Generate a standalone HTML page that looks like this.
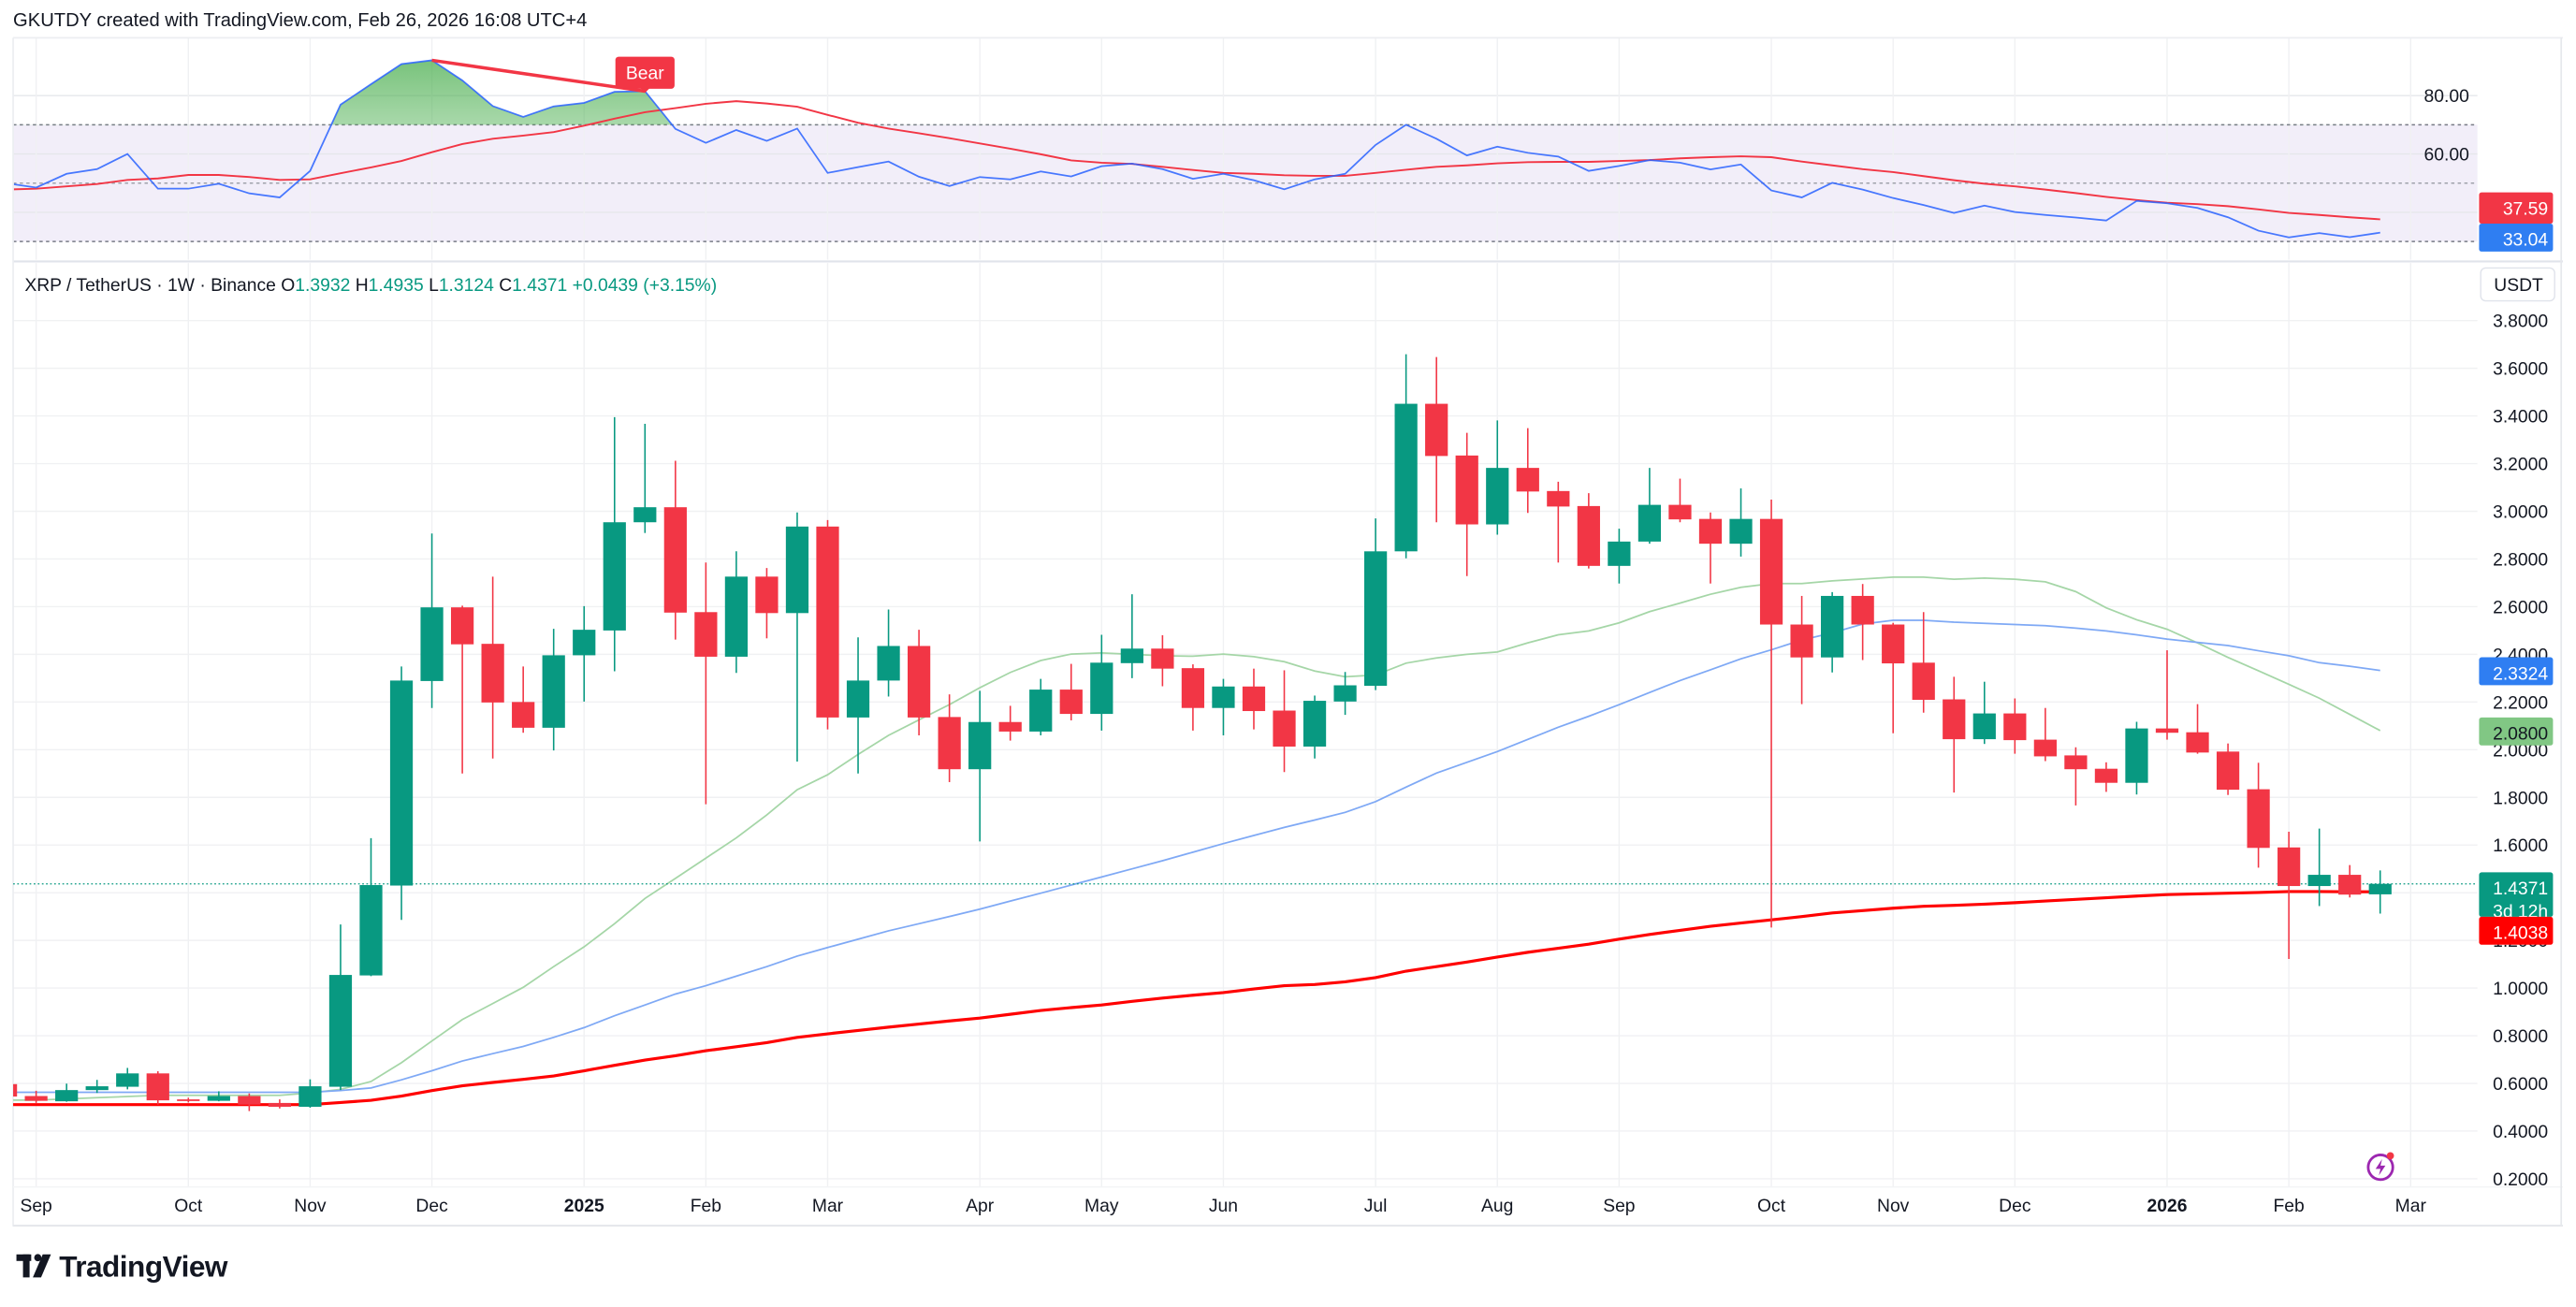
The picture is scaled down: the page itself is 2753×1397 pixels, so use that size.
<!DOCTYPE html>
<html><head><meta charset="utf-8">
<style>
html,body{margin:0;padding:0;background:#fff;overflow:hidden}
svg{display:block;font-family:"Liberation Sans",sans-serif}
</style></head>
<body>
<svg id="chart" width="2753" height="1397" viewBox="0 0 1568 795" preserveAspectRatio="none" xmlns="http://www.w3.org/2000/svg">
<defs>
<clipPath id="plotClip"><rect x="8" y="160" width="1500" height="585"/></clipPath>
<clipPath id="rsiClip"><rect x="8" y="23" width="1500" height="136"/></clipPath>
<clipPath id="obClip"><rect x="8" y="0" width="1500" height="76"/></clipPath>
<linearGradient id="gFill" x1="0" y1="0" x2="0" y2="1">
<stop offset="0" stop-color="#4caf50" stop-opacity="0.75"/>
<stop offset="1" stop-color="#4caf50" stop-opacity="0.02"/>
</linearGradient>
</defs>
<text x="8" y="16" font-size="11.5" fill="#131722">GKUTDY created with TradingView.com, Feb 26, 2026 16:08 UTC+4</text>
<g id="rsiPane"></g>
<g id="mainPane"></g>
<g>
<rect x="10" y="763" width="9" height="4" fill="#131722"/>
<rect x="14" y="763" width="4" height="14" fill="#131722"/>
<circle cx="23" cy="765" r="2.2" fill="#131722"/>
<polygon points="26,763 31,763 25,777 20,777" fill="#131722"/>
<text x="36" y="776.5" font-size="18" font-weight="bold" fill="#131722" letter-spacing="-0.3">TradingView</text>
</g>
</svg>
<script>
// ---------- DATA ----------
const candleOpen = [0.597,0.547,0.525,0.572,0.586,0.642,0.533,0.527,0.547,0.518,0.502,0.586,1.053,1.43,2.288,2.597,2.444,2.2,2.092,2.396,2.5,2.954,3.017,2.577,2.39,2.726,2.573,2.936,2.135,2.29,2.435,2.137,1.918,2.116,2.076,2.252,2.15,2.363,2.424,2.342,2.175,2.265,2.164,2.013,2.202,2.268,2.832,3.451,3.234,2.945,3.182,3.085,3.022,2.771,2.873,3.027,2.968,2.864,2.968,2.525,2.387,2.645,2.525,2.365,2.211,2.044,2.152,2.042,1.976,1.92,1.861,2.089,2.073,1.992,1.834,1.59,1.428,1.475,1.3932];
const candleHigh = [0.60,0.569,0.599,0.615,0.665,0.651,0.54,0.567,0.558,0.533,0.617,1.267,1.629,2.349,2.907,2.604,2.726,2.349,2.507,2.602,3.395,3.367,3.212,2.785,2.832,2.762,2.995,2.963,2.471,2.588,2.503,2.232,2.247,2.184,2.297,2.36,2.482,2.652,2.48,2.358,2.297,2.34,2.333,2.227,2.326,2.97,3.659,3.647,3.329,3.381,3.349,3.124,3.076,2.927,3.182,3.137,2.995,3.096,3.049,2.645,2.661,2.695,2.532,2.577,2.306,2.285,2.215,2.175,2.01,1.947,2.117,2.417,2.191,2.026,1.945,1.656,1.669,1.516,1.4935];
const candleLow = [0.54,0.518,0.523,0.56,0.575,0.511,0.52,0.525,0.484,0.495,0.498,0.572,1.05,1.286,2.175,1.9,1.963,2.071,1.997,2.202,2.329,2.909,2.462,1.771,2.322,2.467,1.95,2.085,1.9,2.223,2.06,1.864,1.615,2.038,2.06,2.123,2.08,2.3,2.266,2.08,2.06,2.085,1.906,1.963,2.146,2.25,2.803,2.954,2.728,2.902,2.993,2.785,2.76,2.697,2.864,2.954,2.697,2.81,1.254,2.191,2.324,2.376,2.069,2.155,1.82,2.024,1.983,1.952,1.766,1.823,1.812,2.042,1.983,1.81,1.505,1.122,1.344,1.38,1.3124];
const candleClose = [0.545,0.527,0.572,0.588,0.642,0.529,0.527,0.547,0.511,0.502,0.588,1.055,1.432,2.29,2.597,2.442,2.198,2.092,2.396,2.503,2.954,3.017,2.575,2.39,2.726,2.573,2.936,2.135,2.29,2.435,2.135,1.918,2.116,2.076,2.252,2.15,2.365,2.424,2.34,2.175,2.265,2.162,2.013,2.205,2.27,2.832,3.451,3.232,2.945,3.182,3.083,3.02,2.771,2.873,3.027,2.966,2.864,2.968,2.525,2.387,2.645,2.525,2.362,2.209,2.044,2.152,2.04,1.972,1.918,1.861,2.089,2.071,1.988,1.832,1.588,1.428,1.475,1.392,1.4371];
const ma200 = [0.511,0.511,0.511,0.511,0.511,0.511,0.511,0.511,0.511,0.511,0.511,0.52,0.529,0.547,0.57,0.59,0.604,0.617,0.631,0.653,0.676,0.698,0.716,0.737,0.754,0.771,0.793,0.808,0.822,0.836,0.849,0.862,0.874,0.89,0.906,0.918,0.929,0.944,0.958,0.97,0.981,0.996,1.01,1.015,1.026,1.044,1.071,1.09,1.109,1.13,1.15,1.167,1.184,1.205,1.225,1.242,1.259,1.273,1.286,1.3,1.315,1.325,1.335,1.343,1.347,1.352,1.358,1.365,1.372,1.379,1.386,1.392,1.395,1.398,1.401,1.405,1.405,1.404,1.4038];
const ma50 = [0.563,0.563,0.563,0.563,0.563,0.563,0.563,0.563,0.563,0.563,0.563,0.57,0.581,0.615,0.653,0.694,0.725,0.755,0.793,0.834,0.884,0.929,0.975,1.01,1.05,1.09,1.134,1.17,1.205,1.24,1.27,1.30,1.331,1.365,1.398,1.432,1.466,1.5,1.534,1.57,1.606,1.64,1.674,1.705,1.737,1.782,1.843,1.902,1.947,1.992,2.043,2.094,2.14,2.189,2.24,2.29,2.335,2.381,2.419,2.46,2.49,2.527,2.543,2.543,2.535,2.53,2.525,2.52,2.51,2.498,2.482,2.464,2.45,2.437,2.415,2.394,2.365,2.35,2.3324];
const ma20 = [0.53,0.53,0.535,0.54,0.545,0.55,0.55,0.55,0.55,0.55,0.56,0.575,0.608,0.687,0.778,0.868,0.935,1.003,1.09,1.173,1.27,1.376,1.46,1.545,1.63,1.726,1.832,1.895,1.98,2.06,2.125,2.189,2.26,2.324,2.374,2.401,2.406,2.4,2.394,2.392,2.401,2.39,2.369,2.33,2.306,2.313,2.363,2.385,2.4,2.41,2.448,2.482,2.498,2.532,2.579,2.615,2.652,2.681,2.697,2.697,2.708,2.716,2.724,2.724,2.715,2.72,2.715,2.704,2.663,2.595,2.545,2.505,2.448,2.387,2.331,2.274,2.216,2.148,2.08];
const rsiValues = [50.0,48.5,53.2,54.8,60.0,48.1,48.1,49.8,46.5,45.1,54.2,76.9,83.9,90.8,92.1,85.2,76.4,72.7,76.3,77.5,81.3,81.5,68.6,63.8,68.2,64.5,68.7,53.5,55.5,57.4,52.2,49.0,52.1,51.3,54.0,52.3,55.8,56.7,54.8,51.5,53.2,51.0,47.9,51.3,53.2,63.1,70.0,65.2,59.5,62.5,60.4,59.1,54.2,55.9,57.9,57.0,54.7,56.4,47.5,45.1,50.1,47.8,44.9,42.5,39.8,42.3,40.1,39.1,38.2,37.2,43.9,43.1,41.5,38.3,33.7,31.4,32.9,31.5,33.04];
const rsiMA = [47.8,48.1,48.9,49.7,51.1,51.6,52.8,52.8,52.1,51.1,51.3,53.4,55.4,57.6,60.6,63.4,65.2,66.3,67.5,69.7,72.1,74.3,75.7,77.2,78.1,77.3,76.2,73.4,70.7,68.7,67.1,65.4,63.6,61.8,59.9,57.8,57.0,56.6,55.6,54.5,53.5,53.2,52.7,52.5,52.5,53.5,54.6,55.6,56.1,56.8,57.2,57.3,57.3,57.6,57.9,58.5,58.9,59.2,58.9,57.4,56.1,54.8,53.8,52.4,51.0,49.8,48.9,47.8,46.6,45.3,44.2,43.3,42.8,42.1,41.0,39.8,39.1,38.3,37.59];
const priceTicks = [0.2,0.4,0.6,0.8,1.0,1.2,1.4,1.6,1.8,2.0,2.2,2.4,2.6,2.8,3.0,3.2,3.4,3.6,3.8];
const rsiTicks = [80,60];
const monthLabels = ["Sep","Oct","Nov","Dec","2025","Feb","Mar","Apr","May","Jun","Jul","Aug","Sep","Oct","Nov","Dec","2026","Feb","Mar"];
const monthIndex = [0,5,9,13,18,22,26,31,35,39,44,48,52,57,61,65,70,74,78];
const divergenceFrom = 13, divergenceTo = 20;

// ---------- SCALES ----------
const FIRST = -1;
const xOf = i => 22 + 18.53 * i;
const yOf = p => 717 - (p - 0.2) * 145;
const rY = v => 75.9 + (70 - v) * 1.775;
const NS = "http://www.w3.org/2000/svg";
function mk(tag, attrs, parent){const e=document.createElementNS(NS,tag);for(const k in attrs)e.setAttribute(k,attrs[k]);parent.appendChild(e);return e;}
const GREEN="#089981", RED="#F23645";
const main=document.getElementById('mainPane');
const rsiG=document.getElementById('rsiPane');

// ---------- RSI PANE ----------
let e;
e=mk('rect',{x:8,y:rY(70),width:1500,height:rY(30)-rY(70),fill:'#7e57c2','fill-opacity':0.1},rsiG);


rsiTicks.concat([40]).forEach(v=>{
  e=mk('line',{x1:8,x2:1508,y1:rY(v),y2:rY(v),stroke:'#e6e7eb','stroke-width':0.8},rsiG);
  
  
});
monthIndex.forEach(i=>{
  e=mk('line',{x1:xOf(i),x2:xOf(i),y1:23,y2:158,stroke:'#f0f1f3','stroke-width':0.8},rsiG);
  
  
});
[70,50,30].forEach(v=>{
  e=mk('line',{x1:8,x2:1508,y1:rY(v),y2:rY(v),stroke:v===50?'#a0a3ab':'#787b86','stroke-width':0.8,'stroke-dasharray':'2,2'},rsiG);
  
  
});
mk('line',{x1:8,x2:1560,y1:23,y2:23,stroke:'#eceef1','stroke-width':1},rsiG);
mk('line',{x1:8,x2:1560,y1:159,y2:159,stroke:'#e0e3eb','stroke-width':1.2},rsiG);
// overbought fill
const clipG=mk('g',{'clip-path':'url(#obClip)'},rsiG);
let fd='M'+xOf(FIRST)+','+rY(70);
rsiValues.forEach((v,k)=>{fd+=' L'+xOf(k+FIRST)+','+rY(v);});
fd+=' L'+xOf(rsiValues.length-1+FIRST)+','+rY(70)+' Z';
e=mk('path',{d:fd,fill:'url(#gFill)'},clipG);


const rc=mk('g',{'clip-path':'url(#rsiClip)'},rsiG);
let d='';
rsiMA.forEach((v,k)=>{d+=(k?' L':'M')+xOf(k+FIRST)+','+rY(v);});
e=mk('path',{d:d,fill:'none',stroke:RED,'stroke-width':1.1},rc);


d='';
rsiValues.forEach((v,k)=>{d+=(k?' L':'M')+xOf(k+FIRST)+','+rY(v);});
e=mk('path',{d:d,fill:'none',stroke:'#2962ff','stroke-width':1,'stroke-opacity':0.85},rc);


// divergence
const dx1=xOf(divergenceFrom), dy1=rY(rsiValues[divergenceFrom-FIRST]);
const dx2=xOf(divergenceTo), dy2=rY(rsiValues[divergenceTo-FIRST]);
e=mk('line',{x1:dx1,y1:dy1,x2:dx2,y2:dy2,stroke:RED,'stroke-width':2},rsiG);


const bg=mk('g',{},rsiG);


mk('rect',{x:dx2-18,y:dy2-21,width:36,height:19.5,rx:2,fill:RED},bg);
mk('polygon',{points:(dx2-3)+','+(dy2-2)+' '+(dx2+3)+','+(dy2-2)+' '+dx2+','+(dy2+1)},bg);
bg.lastChild.setAttribute('fill',RED);
e=mk('text',{x:dx2,y:dy2-7.5,'font-size':11,fill:'#fff','text-anchor':'middle'},bg);e.textContent='Bear';
rsiTicks.forEach(v=>{
  e=mk('text',{x:1503,y:rY(v)+4,'font-size':11,fill:'#131722','text-anchor':'end'},rsiG);
  
  
  e.textContent=v.toFixed(2);
});
function badge(g,y,h,fill,txt,tc,name){
  const b=mk('g',{},g);
  
  
  mk('rect',{x:1509,y:y,width:45,height:h,rx:1.5,fill:fill},b);
  const lines=txt.split('|');
  lines.forEach((t,k)=>{const tt=mk('text',{x:1551,y:y+13.5+k*14,'font-size':11,fill:tc,'text-anchor':'end'},b);tt.textContent=t;});
}
badge(rsiG,117,19,RED,rsiMA[rsiMA.length-1].toFixed(2),'#fff','rsi-ma-value-badge');
badge(rsiG,136,17,'#2f7ef2',rsiValues[rsiValues.length-1].toFixed(2),'#fff','rsi-value-badge');

// ---------- MAIN PANE ----------
priceTicks.forEach(p=>{
  e=mk('line',{x1:8,x2:1508,y1:yOf(p),y2:yOf(p),stroke:'#f0f1f3','stroke-width':0.8},main);
  
  
  e=mk('text',{x:1551,y:yOf(p)+4,'font-size':11,fill:'#131722','text-anchor':'end'},main);
  
  
  e.textContent=p.toFixed(4);
});
monthIndex.forEach((i,k)=>{
  e=mk('line',{x1:xOf(i),x2:xOf(i),y1:160,y2:722,stroke:'#f0f1f3','stroke-width':0.8},main);
  
  
  const bold=/^20/.test(monthLabels[k]);
  e=mk('text',{x:xOf(i),y:737,'font-size':11,fill:'#131722','text-anchor':'middle','font-weight':bold?'bold':'normal'},main);
  
  
  e.textContent=monthLabels[k];
});
mk('line',{x1:8,x2:8,y1:23,y2:746,stroke:'#eceef1','stroke-width':1},main);
mk('line',{x1:8,x2:1560,y1:722,y2:722,stroke:'#f3f4f6','stroke-width':0.8},main);
mk('line',{x1:8,x2:1560,y1:745.5,y2:745.5,stroke:'#e6e8ec','stroke-width':1.2},main);
mk('line',{x1:1559,x2:1559,y1:23,y2:746,stroke:'#e6e8ec','stroke-width':1},main);
const pc=mk('g',{'clip-path':'url(#plotClip)'},main);
function maLine(arr,color,w,name){
  let dd='';arr.forEach((v,k)=>{dd+=(k?' L':'M')+xOf(k+FIRST)+','+yOf(v);});
  const p=mk('path',{d:dd,fill:'none',stroke:color,'stroke-width':w},pc);
  
  
}
maLine(ma20,'#a5d6a7',1,'ma-green-line');
maLine(ma50,'#7fa9f5',1,'ma-blue-line');
maLine(ma200,'#ff0000',1.8,'ma-red-line');
const lastC=candleClose[candleClose.length-1];
e=mk('line',{x1:8,x2:1508,y1:yOf(lastC),y2:yOf(lastC),stroke:GREEN,'stroke-width':0.7,'stroke-dasharray':'1,1.5'},pc);


candleOpen.forEach((o,k)=>{
  const i=k+FIRST, c=candleClose[k], h=candleHigh[k], l=candleLow[k];
  const col=c>=o?GREEN:RED, cx=xOf(i);
  const g=mk('g',{},pc);
  
  
  mk('line',{x1:cx,x2:cx,y1:yOf(h),y2:yOf(l),stroke:col,'stroke-width':0.9},g);
  const top=yOf(Math.max(o,c)), bot=yOf(Math.min(o,c));
  mk('rect',{x:cx-6.9,y:top,width:13.8,height:Math.max(bot-top,1),fill:col},g);
});
// legend
const lg=mk('text',{x:15,y:177,'font-size':11,fill:'#131722'},main);


function sp(t,c){const s=mk('tspan',{fill:c},lg);s.textContent=t;}
sp('XRP / TetherUS · 1W · Binance  ','#131722');
sp('O','#131722');sp(candleOpen[candleOpen.length-1].toFixed(4)+'  ',GREEN);
sp('H','#131722');sp(candleHigh[candleHigh.length-1].toFixed(4)+'  ',GREEN);
sp('L','#131722');sp(candleLow[candleLow.length-1].toFixed(4)+'  ',GREEN);
sp('C','#131722');sp(lastC.toFixed(4)+'  ',GREEN);
sp('+0.0439 (+3.15%)',GREEN);
// currency box
const ub=mk('g',{},main);


mk('rect',{x:1510,y:163,width:45,height:20,rx:3,fill:'#fff',stroke:'#e0e3eb','stroke-width':0.8},ub);
e=mk('text',{x:1533,y:177,'font-size':11,fill:'#131722','text-anchor':'middle'},ub);e.textContent='USDT';
badge(main,yOf(ma50[ma50.length-1])-8,17,'#2f7ef2',ma50[ma50.length-1].toFixed(4),'#fff','ma-blue-badge');
badge(main,yOf(ma20[ma20.length-1])-8,17,'#81c784',ma20[ma20.length-1].toFixed(4),'#131722','ma-green-badge');
badge(main,yOf(lastC)-7,27,GREEN,lastC.toFixed(4)+'|3d 12h','#fff','last-price-badge');
badge(main,yOf(lastC)+20,17,'#f00',ma200[ma200.length-1].toFixed(4),'#fff','ma-red-badge');
// lightning icon
const li=mk('g',{},main);


mk('circle',{cx:1449,cy:710,r:7.5,fill:'none',stroke:'#9c27b0','stroke-width':1.6},li);
mk('path',{d:'M1450,705 L1446,711 L1449,711 L1448,715 L1452,709 L1449,709 Z',fill:'#9c27b0'},li);
mk('circle',{cx:1455,cy:703,r:2.2,fill:'#f23645'},li);
</script>
</body></html>
